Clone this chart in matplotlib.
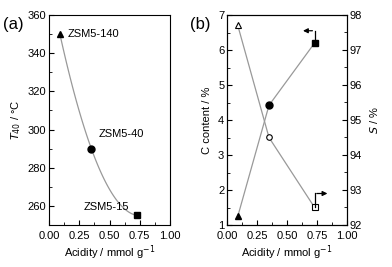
import numpy as np
import matplotlib.pyplot as plt
from matplotlib.ticker import MultipleLocator

# data
acidity = [0.09, 0.35, 0.73]
samples = ['ZSM5-140', 'ZSM5-40', 'ZSM5-15']
t40 = [350, 290, 255]
c_content = [1.25, 4.42, 6.2]
selectivity = [97.7, 94.5, 92.5]
markers = ['^', 'o', 's']

plt.rcParams['font.family'] = ['Liberation Sans', 'DejaVu Sans']
plt.rcParams['font.size'] = 8

fig = plt.figure(figsize=(3.92, 2.67), dpi=100)
W, H = 392, 267
ax1 = fig.add_axes([49 / W, 1 - 225 / H, 121 / W, 210 / H])
ax2 = fig.add_axes([227 / W, 1 - 225 / H, 120 / W, 210 / H])
ax3 = ax2.twinx()

line_col = '#999999'


def style(ax):
    ax.tick_params(which='both', direction='in', top=False, right=False, labelsize=8)
    ax.tick_params(which='major', length=3.5, width=0.8)
    ax.tick_params(which='minor', length=2, width=0.6)
    ax.tick_params(axis='y', pad=2)
    ax.tick_params(axis='x', pad=4)
    ax.xaxis.set_minor_locator(MultipleLocator(0.125))
    ax.set_xlim(0, 1)
    ax.set_xticks([0, 0.25, 0.5, 0.75, 1.0])
    ax.set_xticklabels(['0.00', '0.25', '0.50', '0.75', '1.00'])
    ax.set_xlabel('Acidity / mmol g$^{-1}$', fontsize=8, labelpad=2)


# (a) smooth curve through the three points
coef = np.polyfit(acidity, t40, 2)
xs = np.linspace(acidity[0], acidity[-1], 100)
ax1.plot(xs, np.polyval(coef, xs), color=line_col, lw=0.9, zorder=1)
for x, y, m in zip(acidity, t40, markers):
    ax1.plot(x, y, marker=m, color='k', ms=5, ls='none', zorder=2)
ax1.text(acidity[0] + 0.06, t40[0], samples[0], va='center', ha='left', fontsize=8)
ax1.text(acidity[1] + 0.06, t40[1] + 7.5, samples[1], va='center', ha='left', fontsize=8)
ax1.text(acidity[2] - 0.07, t40[2] + 4.5, samples[2], va='center', ha='right', fontsize=8)
ax1.set_ylim(250, 360)
ax1.yaxis.set_minor_locator(MultipleLocator(10))
ax1.set_yticks([260, 280, 300, 320, 340, 360])
ax1.set_ylabel('$T_{40}$ / °C', fontsize=8, labelpad=3)
style(ax1)
fig.text(3 / W, 1 - 25 / H, '(a)', fontsize=12, va='center', ha='left')

# (b) carbon content (filled) and selectivity (open)
ax2.plot(acidity, c_content, color=line_col, lw=0.9, zorder=1)
for x, y, m in zip(acidity, c_content, markers):
    ax2.plot(x, y, marker=m, color='k', ms=5, ls='none', zorder=2)
ax3.plot(acidity, selectivity, color=line_col, lw=0.9, zorder=1)
for x, y, m in zip(acidity, selectivity, markers):
    ax3.plot(x, y, marker=m, mfc='white', mec='k', mew=0.8, ms=4, ls='none', zorder=2)
ax2.set_ylim(1, 7)
ax2.yaxis.set_major_locator(MultipleLocator(1))
ax2.yaxis.set_minor_locator(MultipleLocator(0.5))
ax2.set_ylabel('C content / %', fontsize=8, labelpad=4)
style(ax2)
ax3.set_ylim(92, 98)
ax3.yaxis.set_major_locator(MultipleLocator(1))
ax3.yaxis.set_minor_locator(MultipleLocator(0.5))
ax3.tick_params(which='both', direction='in', labelsize=8, pad=2)
ax3.tick_params(which='major', length=3.5, width=0.8)
ax3.tick_params(which='minor', length=2, width=0.6)
ax3.set_ylabel('$S$ / %', fontsize=8, labelpad=4)

# axis indicator arrows
ax2.plot([acidity[2], acidity[2]], [c_content[2], c_content[2] + 0.35], color='k', lw=0.9)
ax2.annotate('', xy=(acidity[2] - 0.12, c_content[2] + 0.35), xytext=(acidity[2] + 0.005, c_content[2] + 0.35),
             arrowprops=dict(arrowstyle='-|>', color='k', lw=0.9, mutation_scale=7))
ax3.plot([acidity[2], acidity[2]], [selectivity[2], selectivity[2] + 0.4], color='k', lw=0.9)
ax3.annotate('', xy=(acidity[2] + 0.13, selectivity[2] + 0.4), xytext=(acidity[2] - 0.005, selectivity[2] + 0.4),
             arrowprops=dict(arrowstyle='-|>', color='k', lw=0.9, mutation_scale=7))
fig.text(190 / W, 1 - 25 / H, '(b)', fontsize=12, va='center', ha='left')

fig.savefig('out.png', dpi=100)
